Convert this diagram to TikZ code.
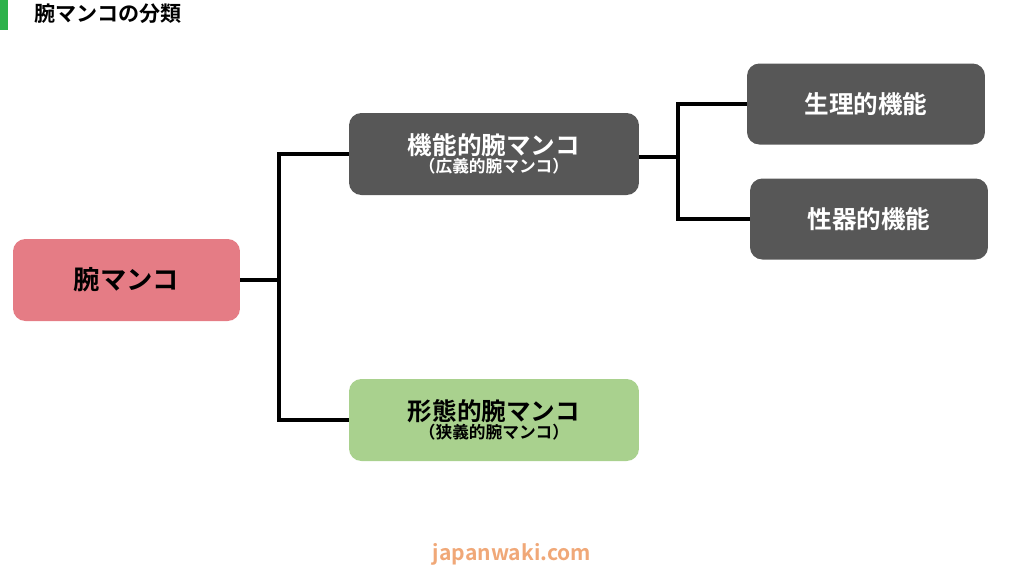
\documentclass[tikz,border=0pt]{standalone}
\usepackage{fontspec}
\setmainfont{Noto Sans CJK JP}[BoldFont={* Bold}]
\usetikzlibrary{positioning}
\definecolor{rootpink}{HTML}{E57C85}
\definecolor{boxgray}{HTML}{575757}
\definecolor{boxgreen}{HTML}{A9D18E}
\definecolor{titlegreen}{HTML}{2DB24A}
\definecolor{markorange}{HTML}{F0A878}
\tikzstyle{box} = [rectangle, rounded corners=7pt, minimum width=4.54cm, minimum height=1.64cm, text centered, align=center, font=\bfseries]
\tikzstyle{graybox} = [box, fill=boxgray, text=white]
\tikzstyle{link} = [line width=2.2pt, black]

\begin{document}
\begin{tikzpicture}[x=0.02cm, y=-0.02cm]
 \useasboundingbox (0,0) rectangle (1024,576);
 \fill[titlegreen] (0,0) rectangle (8,30);
 \node (title) [anchor=west, font=\bfseries\fontsize{12}{14}\selectfont] at (28,14) {腕マンコの分類};

 \node (root) [box, fill=rootpink, font=\bfseries\fontsize{15}{18}\selectfont] at (126.5,280) {腕マンコ};
 \node (func) [graybox, minimum width=5.8cm] at (494,154) {{\fontsize{14}{17}\selectfont 機能的腕マンコ}\\[-2pt]{\fontsize{9.5}{12}\selectfont （広義的腕マンコ）}};
 \node (morph) [box, fill=boxgreen, minimum width=5.8cm] at (494,420) {{\fontsize{14}{17}\selectfont 形態的腕マンコ}\\[-2pt]{\fontsize{9.5}{12}\selectfont （狭義的腕マンコ）}};
 \node (phys) [graybox, minimum width=4.76cm, minimum height=1.62cm, font=\bfseries\fontsize{14}{17}\selectfont] at (866,104) {生理的機能};
 \node (sex) [graybox, minimum width=4.76cm, minimum height=1.62cm, font=\bfseries\fontsize{14}{17}\selectfont] at (869,219) {性器的機能};

 \coordinate (j1) at (279,280);
 \coordinate (j2) at (678,157);
 \draw [link] (root.east) -- (j1);
 \draw [link] (func.west) -| (j1) |- (morph.west);
 \draw [link] (func.east |- j2) -- (j2);
 \draw [link] (phys.west) -| (j2) |- (sex.west);

 \node (mark) [text=markorange, font=\bfseries\fontsize{12}{14}\selectfont] at (512,554) {japanwaki.com};
\end{tikzpicture}
\end{document}
